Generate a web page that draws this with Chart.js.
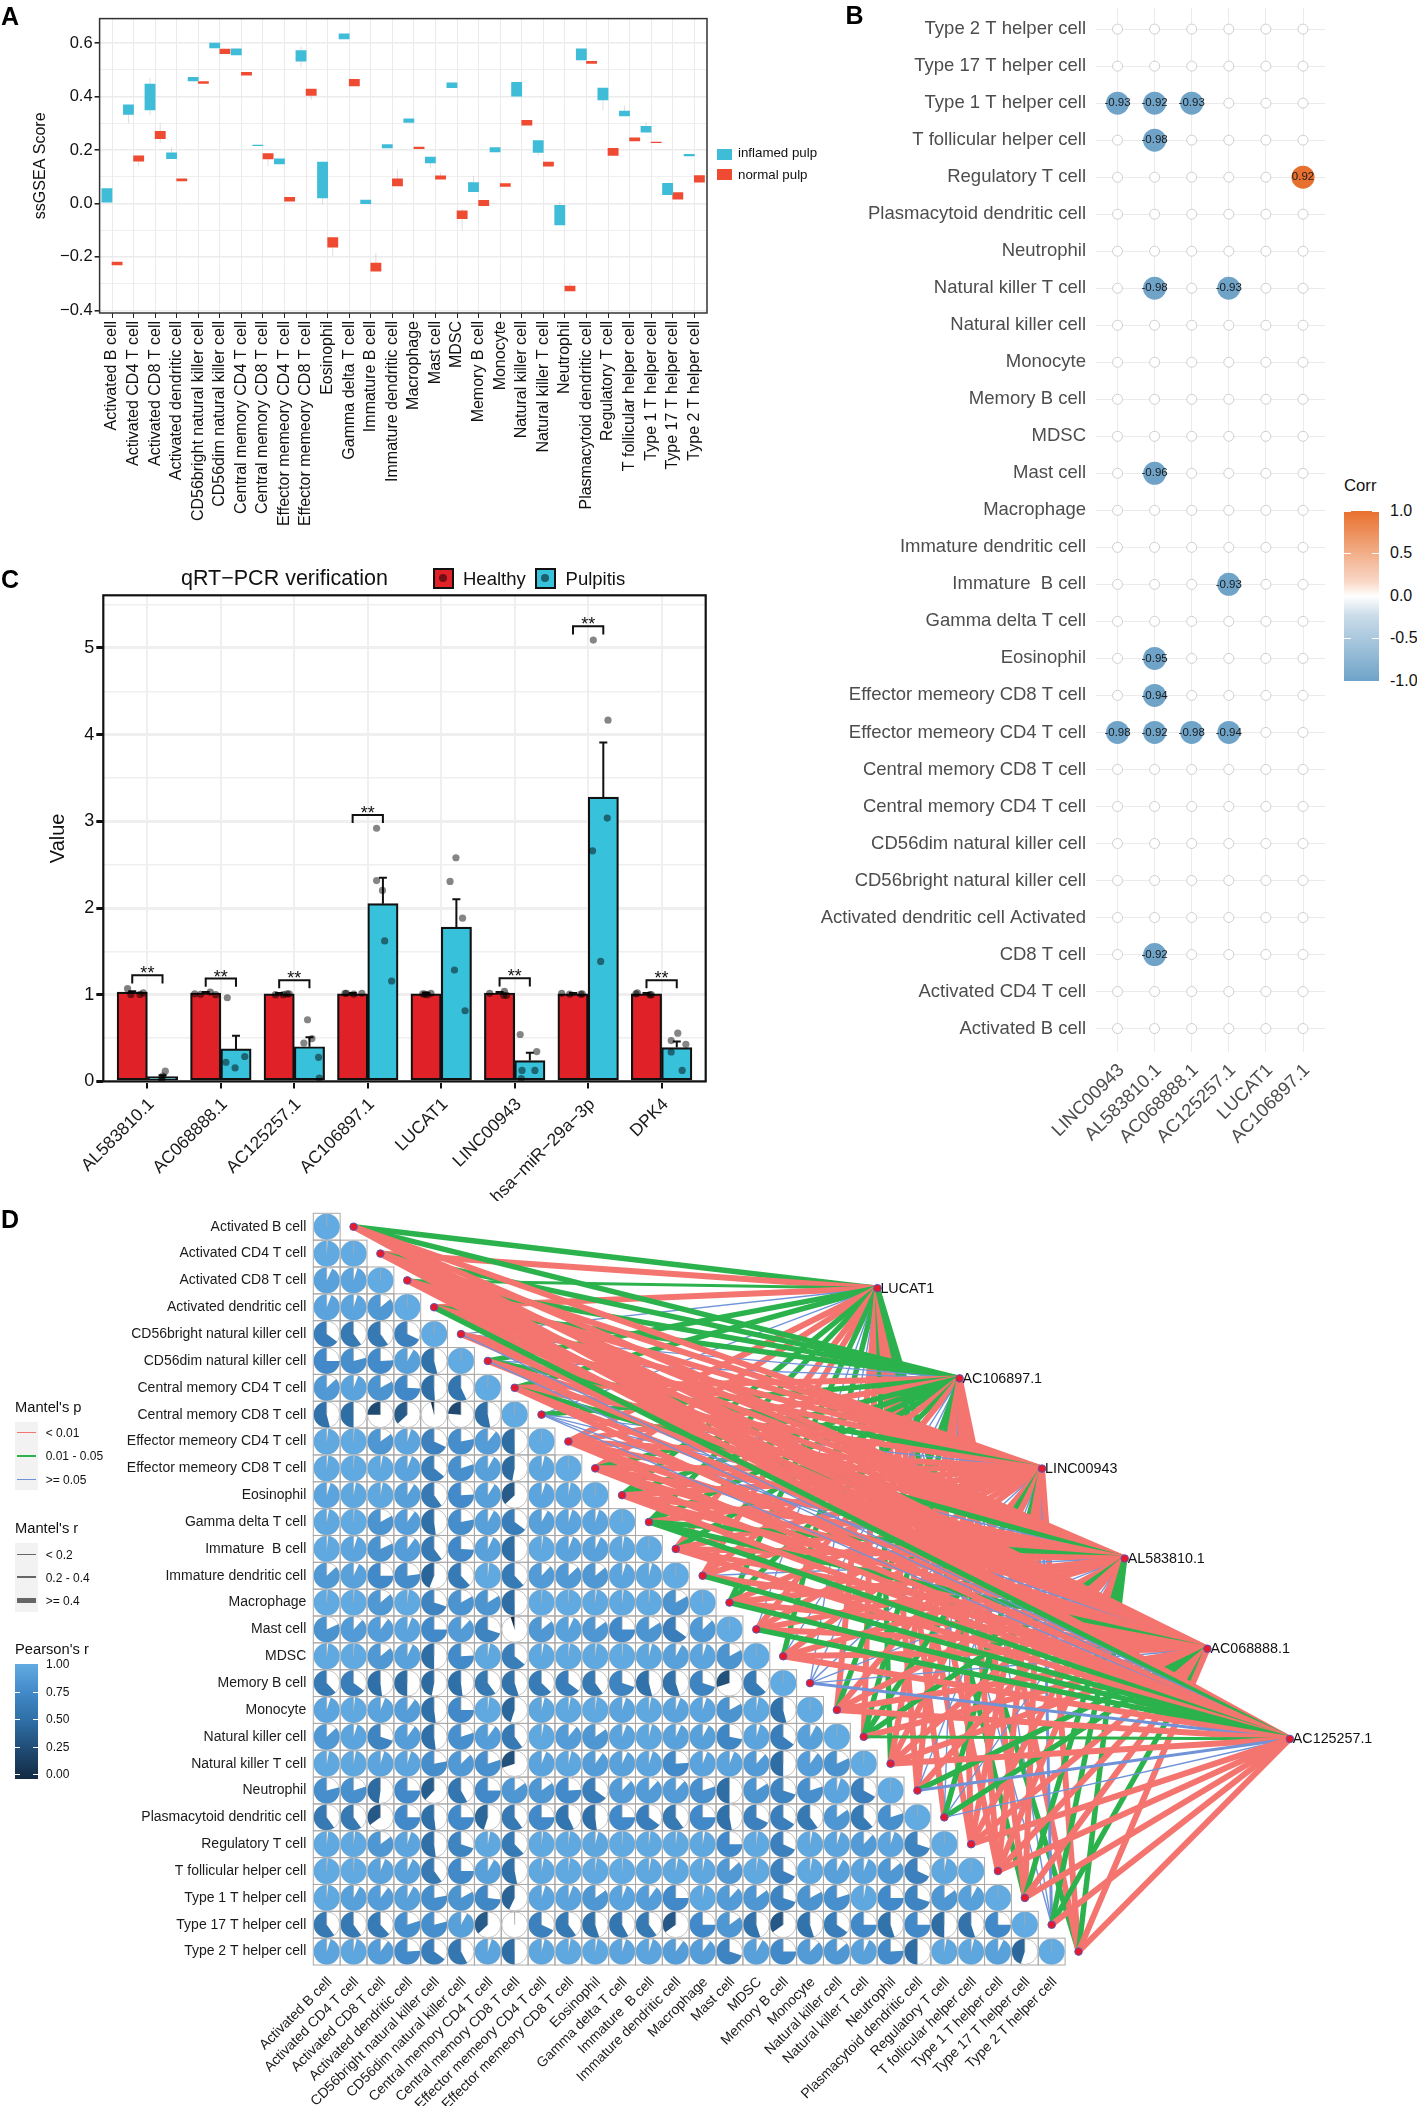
<!DOCTYPE html>
<html><head><meta charset="utf-8">
<script src="https://cdn.jsdelivr.net/npm/chart.js@4"></script>
<style>
html,body{margin:0;padding:0;background:#fff;width:1417px;height:2106px;overflow:hidden;font-family:"Liberation Sans",Arial,sans-serif}
canvas{position:absolute}
.t{position:absolute;white-space:nowrap;transform:translateY(-50%);line-height:1;color:#111}
.b{position:absolute}
</style></head><body>
<canvas id="ca" width="840" height="580" style="left:0;top:0"></canvas>
<canvas id="cb" width="540" height="1190" style="left:800px;top:-20px"></canvas>
<canvas id="cc" width="760" height="640" style="left:0;top:561px"></canvas>
<canvas id="cd" width="1417" height="906" style="left:0;top:1200px"></canvas>
<script>
/* ---------- panel A ---------- */
const cellsA=["Activated B cell","Activated CD4 T cell","Activated CD8 T cell","Activated dendritic cell","CD56bright natural killer cell","CD56dim natural killer cell","Central memory CD4 T cell","Central memory CD8 T cell","Effector memeory CD4 T cell","Effector memeory CD8 T cell","Eosinophil","Gamma delta T cell","Immature B cell","Immature dendritic cell","Macrophage","Mast cell","MDSC","Memory B cell","Monocyte","Natural killer cell","Natural killer T cell","Neutrophil","Plasmacytoid dendritic cell","Regulatory T cell","T follicular helper cell","Type 1 T helper cell","Type 17 T helper cell","Type 2 T helper cell"];
const inflamedBox=[[.005,.056],[.333,.369],[.35,.447],[.168,.19],[.459,.472],[.582,.6],[.556,.579],[.216,.219],[.148,.167],[.533,.572],[.021,.155],[.616,.635],[-.001,.013],[.208,.22],[.303,.317],[.152,.174],[.433,.452],[.044,.078],[.193,.209],[.402,.453],[.191,.235],[-.08,-.007],[.537,.579],[.388,.432],[.328,.346],[.267,.289],[.033,.075],[.178,.184]];
const normalBox=[[-.23,-.219],[.158,.178],[.243,.27],[.084,.092],[.449,.456],[.561,.578],[.48,.491],[.167,.187],[.009,.023],[.404,.428],[-.164,-.128],[.44,.465],[-.253,-.223],[.066,.092],[.205,.211],[.091,.103],[-.057,-.028],[-.008,.012],[.064,.074],[.293,.311],[.14,.155],[-.327,-.309],[.524,.532],[.18,.206],[.234,.246],[.228,.23],[.016,.041],[.08,.104]];
/* faint whiskers that can be seen: [category, group (0 inflamed, 1 normal), low, high] */
const whiskersA=[[1,0,.30,.369],[2,0,.33,.47],[3,0,.168,.21],[9,0,.51,.587],[10,0,-.003,.155],[15,0,.134,.174],[17,0,.044,.103],[20,0,.179,.235],[21,0,-.08,.007],[23,0,.35,.432],[24,0,.328,.367],[25,0,.267,.305],[1,1,.14,.178],[2,1,.227,.30],[7,1,.14,.187],[9,1,.388,.428],[10,1,-.196,-.128],[12,1,-.253,-.185],[13,1,.066,.127],[15,1,.091,.116],[16,1,-.1,-.02],[21,1,-.327,-.297]];
/* ---------- panel B ---------- */
const rowsB=["Type 2 T helper cell","Type 17 T helper cell","Type 1 T helper cell","T follicular helper cell","Regulatory T cell","Plasmacytoid dendritic cell","Neutrophil","Natural killer T cell","Natural killer cell","Monocyte","Memory B cell","MDSC","Mast cell","Macrophage","Immature dendritic cell","Immature  B cell","Gamma delta T cell","Eosinophil","Effector memeory CD8 T cell","Effector memeory CD4 T cell","Central memory CD8 T cell","Central memory CD4 T cell","CD56dim natural killer cell","CD56bright natural killer cell","Activated dendritic cell Activated","CD8 T cell","Activated CD4 T cell","Activated B cell"];
const genesB=["LINC00943","AL583810.1","AC068888.1","AC125257.1","LUCAT1","AC106897.1"];
/* row name -> [value per gene], only significant cells are listed */
const corrSig={"Type 1 T helper cell":[-.93,-.92,-.93,null,null,null],"T follicular helper cell":[null,-.98,null,null,null,null],"Regulatory T cell":[null,null,null,null,null,.92],"Natural killer T cell":[null,-.98,null,-.93,null,null],"Mast cell":[null,-.96,null,null,null,null],"Immature  B cell":[null,null,null,-.93,null,null],"Eosinophil":[null,-.95,null,null,null,null],"Effector memeory CD8 T cell":[null,-.94,null,null,null,null],"Effector memeory CD4 T cell":[-.98,-.92,-.98,-.94,null,null],"CD8 T cell":[null,-.92,null,null,null,null]};
const corrTicks=["1.0","0.5","0.0","-0.5","-1.0"];
/* ---------- panel C ---------- */
const genesC=["AL583810.1","AC068888.1","AC125257.1","AC106897.1","LUCAT1","LINC00943","hsa\u2212miR\u221229a\u22123p","DPK4"];
const healthyMean=[1.03,1.02,1.01,1.01,1.01,1.02,1.01,1.01];
const pulpitisMean=[.055,.375,.40,2.05,1.78,.24,3.28,.39];
const healthyErrTop=[1.04,1.03,1.02,1.02,1.02,1.03,1.02,1.02];
const pulpitisErrTop=[.07,.527,.51,2.35,2.10,.33,3.91,.46];
const healthyPointX=[-.27,-.225,-.10,-.056,.644,.725,.856,.93,1.744,1.85,1.9,1.93,2.69,2.71,2.81,2.92,3.75,3.78,3.81,3.86,4.66,4.85,4.86,4.89,5.64,5.75,5.9,5.92,6.65,6.67,6.84,6.86];
const healthyPointY=[1.069,1.003,1.003,1.02,1.01,1.005,1.03,1,1,1,1.01,1.01,1.016,1.016,1.006,1.016,1.01,1.006,1,1.016,1.016,.993,1.04,.993,1.016,1.006,1.006,1.01,1.01,1.02,1,1];
const pulpitisPointX=[.244,.194,.21,.194,1.088,1.325,1.194,1.069,2.18,2.13,2.24,2.33,2.34,3.12,3.12,3.2,3.23,3.325,4.2,4.12,4.29,4.18,4.325,5.075,5.3,5.1,5.275,5.09,6.07,6.27,6.26,6.06,6.17,7.22,7.13,7.33,7.13,7.28];
const pulpitisPointY=[.118,.033,.061,.005,.965,.287,.155,.221,.711,.443,.494,.278,.038,2.92,2.316,2.203,1.62,1.158,2.58,2.307,1.883,1.285,.815,.541,.344,.127,.127,.033,5.09,4.167,3.037,2.66,1.384,.556,.471,.428,.339,.127];
const bracketCat=[0,1,2,3,5,6,7];
const bracketTop=[1.224,1.186,1.168,3.074,1.19,5.25,1.168];
/* ---------- panel D ---------- */
const cellsD=["Activated B cell","Activated CD4 T cell","Activated CD8 T cell","Activated dendritic cell","CD56bright natural killer cell","CD56dim natural killer cell","Central memory CD4 T cell","Central memory CD8 T cell","Effector memeory CD4 T cell","Effector memeory CD8 T cell","Eosinophil","Gamma delta T cell","Immature  B cell","Immature dendritic cell","Macrophage","Mast cell","MDSC","Memory B cell","Monocyte","Natural killer cell","Natural killer T cell","Neutrophil","Plasmacytoid dendritic cell","Regulatory T cell","T follicular helper cell","Type 1 T helper cell","Type 17 T helper cell","Type 2 T helper cell"];
const pearson=[
[1],
[.99,1],
[.93,.95,1],
[.94,.95,.86,1],
[.65,.60,.60,.68,1],
[.75,.79,.76,.92,.54,1],
[.87,.94,.83,.74,.51,.57,1],
[.54,.5,.25,.37,.04,.24,.53,1],
[.98,.99,.85,.95,.68,.78,.89,.5,1],
[.98,.99,.97,.94,.64,.8,.92,.47,.96,1],
[.95,.97,.97,.91,.6,.76,.91,.37,.95,.97,1],
[.97,.99,.83,.9,.52,.78,.92,.65,.92,.95,.95,1],
[.98,.95,.82,.9,.6,.74,.93,.5,.98,.94,.93,.97,1],
[.87,.93,.75,.77,.44,.62,.98,.62,.88,.87,.86,.95,.96,1],
[.99,.99,.86,.98,.7,.83,.84,.5,.99,.99,.98,.98,.99,.83,1],
[.82,.88,.9,.94,.75,.88,.7,.05,.86,.93,.85,.75,.84,.65,.87,1],
[.98,.99,.86,.93,.5,.76,.97,.64,.97,.98,.98,.99,.96,.92,.95,.83,1],
[.62,.65,.52,.5,.47,.52,.6,.55,.63,.65,.6,.7,.54,.55,.7,.3,.63,1],
[.95,.98,.94,.9,.52,.75,.98,.45,.96,.97,.98,.95,.97,.94,.95,.83,.97,.54,1],
[.87,.95,.7,.9,.52,.8,.9,.6,.97,.89,.85,.94,.96,.93,.92,.72,.95,.65,.92,1],
[.97,.97,.95,.95,.78,.87,.8,.3,.94,.96,.9,.93,.95,.76,.94,.94,.88,.5,.9,.82,1],
[.79,.8,.48,.75,.38,.58,.75,.85,.85,.76,.65,.88,.88,.88,.8,.5,.84,.7,.8,.95,.67,1],
[.6,.6,.35,.75,.52,.75,.45,.6,.75,.57,.52,.75,.65,.6,.75,.53,.68,.66,.6,.85,.62,.8,1],
[.98,.98,.85,.95,.52,.7,.97,.62,.98,.98,.96,.99,.98,.98,.97,.75,.98,.68,.97,.95,.88,.95,.7,1],
[.99,.99,.94,.93,.6,.75,.92,.53,.97,.98,.98,.99,.97,.97,.97,.87,.98,.68,.97,.92,.94,.86,.68,.97,1],
[.98,.92,.9,.92,.78,.83,.73,.43,.95,.94,.85,.94,.9,.75,.97,.88,.85,.7,.83,.8,.97,.75,.7,.85,.92,1],
[.6,.6,.62,.8,.79,.92,.37,.005,.68,.6,.55,.58,.6,.35,.75,.85,.55,.35,.55,.65,.75,.55,.75,.5,.55,.75,1],
[.95,.96,.9,.76,.65,.58,.95,.5,.96,.97,.97,.95,.95,.9,.9,.7,.92,.75,.88,.86,.93,.76,.5,.97,.96,.93,.45,1]];
const genesD=["LUCAT1","AC106897.1","LINC00943","AL583810.1","AC068888.1","AC125257.1"];
/* R/G thick red/green, g thinner green, B medium blue, b thin blue; columns follow genesD */
const mantelLinks=["GGRRRR","RGRRRR","gGRRRR","RGRRRG","bbRRRb","GbGRRb","GRRGRR","bGbbbb","RRRRRR","RGRRRR","GGRRRR","GGRGGG","RGRRRR","RRRbRG","GGRRRG","bRRRRG","GbRRRR","bbbbbB","RGRRRR","RGGGRg","GRRRRR","RRbRGB","RbGbGb","RRRRRR","RRRRRR","GRRGRR","bbBGGR","GRRGRR"];
const legendP=["< 0.01","0.01 - 0.05",">= 0.05"];
const legendR=["< 0.2","0.2 - 0.4",">= 0.4"];
const pearsonTicks=["1.00","0.75","0.50","0.25","0.00"];

/* ---------- shared ---------- */
Chart.defaults.font.family='"Liberation Sans",Arial,sans-serif';
Chart.defaults.animation=false;
Chart.defaults.responsive=false;
Chart.defaults.events=[];
Chart.defaults.plugins.legend.display=false;
Chart.defaults.plugins.tooltip.enabled=false;
const GRID='#ebebeb';
const fixW=w=>function(s){s.width=w;s.paddingTop=0;s.paddingBottom=0};
const fixH=h=>function(s){s.height=h};
const frame=(color,lw)=>({id:'frame',afterDraw(c){const a=c.chartArea,x=c.ctx;x.save();x.strokeStyle=color;x.lineWidth=lw;x.strokeRect(a.left,a.top,a.right-a.left,a.bottom-a.top);x.restore();}});
const indexTicks=(n,off=0)=>function(s){s.ticks=Array.from({length:n},(_,i)=>({value:i+off}))};
function dom(cls,css,text){const e=document.createElement('div');e.className=cls;e.style.cssText=css;if(text!=null)e.textContent=text;document.body.appendChild(e);return e}
function txt(s,x,y,size,extra=''){return dom('t',`left:${x}px;top:${y}px;font-size:${size}px;${extra}`,s)}

/* ---------- A ---------- */
new Chart(document.getElementById('ca'),{
 type:'bar',
 data:{datasets:[
  {label:'inflamed pulp',data:inflamedBox.map((v,i)=>({x:i,y:v})),backgroundColor:'#3fbcd8',barThickness:10.2,borderWidth:0},
  {label:'normal pulp',data:normalBox.map((v,i)=>({x:i,y:v})),backgroundColor:'#ef4a32',barThickness:10.2,borderWidth:0}]},
 options:{layout:{padding:{top:18.6,right:133,left:0,bottom:0}},
  scales:{
   x:{type:'linear',offset:false,min:-.575,max:27.59,afterBuildTicks:indexTicks(cellsA.length),afterFit:fixH(267),
      grid:{offset:false,color:GRID,lineWidth:1,tickColor:'#222',tickLength:5},border:{display:false},
      ticks:{autoSkip:false,minRotation:90,maxRotation:90,padding:3,color:'#111',font:{size:16},callback:v=>cellsA[v]}},
   y:{min:-.41,max:.692,afterFit:fixW(99.6),border:{display:false},
      title:{display:true,text:'ssGSEA Score',color:'#111',font:{size:16},padding:{top:31,bottom:0}},
      grid:{color:GRID,lineWidth:c=>Math.abs(Math.round(c.tick.value*10))%2==0?1.6:.8,tickColor:c=>Math.abs(Math.round(c.tick.value*10))%2==0?'#222':'rgba(0,0,0,0)',tickLength:5},
      ticks:{stepSize:.1,includeBounds:false,autoSkip:false,padding:2,color:'#111',font:{size:16.5},callback:v=>{const k=Math.round(v*10);return k%2==0?(k<0?'\u2212':'')+Math.abs(v).toFixed(1):''}}}}},
 plugins:[frame('#333',1.5),{id:'whisk',beforeDatasetsDraw(c){const x=c.ctx,ys=c.scales.y;x.save();x.strokeStyle='rgba(110,110,110,.22)';x.lineWidth=1;
   whiskersA.forEach(w=>{const e=c.getDatasetMeta(w[1]).data[w[0]];x.beginPath();x.moveTo(e.x,ys.getPixelForValue(w[2]));x.lineTo(e.x,ys.getPixelForValue(w[3]));x.stroke();});x.restore();}}]
});
dom('b','left:717px;top:149px;width:15px;height:11px;background:#3fbcd8');
txt('inflamed pulp',738,153,13.3);
dom('b','left:717px;top:168.6px;width:15px;height:11px;background:#ef4a32');
txt('normal pulp',738,175,13.3);

/* ---------- B ---------- */
const sigPts=[],nsPts=[];
rowsB.forEach((r,ri)=>genesB.forEach((g,gi)=>{const v=corrSig[r]?corrSig[r][gi]:null;if(v==null)nsPts.push({x:gi,y:ri,r:5});else sigPts.push({x:gi,y:ri,r:11.5,v});}));
const corrColor=v=>v>0?'#e8702e':'#6fa3c8';
new Chart(document.getElementById('cb'),{
 type:'bubble',
 data:{datasets:[
  {label:'n.s.',data:nsPts,backgroundColor:'#fff',borderColor:'#cfcfcf',borderWidth:1,order:2},
  {label:'Corr',data:sigPts,backgroundColor:c=>corrColor(c.raw.v),borderWidth:0,order:1}]},
 options:{clip:false,layout:{padding:{top:28,right:15,left:0,bottom:0}},
  scales:{
   x:{type:'linear',min:-.58,max:5.593,afterBuildTicks:indexTicks(genesB.length),afterFit:fixH(1170-1051.5),
      grid:{color:GRID,drawTicks:false},border:{display:false},
      ticks:{autoSkip:false,minRotation:45,maxRotation:45,padding:8,labelOffset:4,color:'#4d4d4d',font:{size:18.5},callback:v=>genesB[v]}},
   y:{type:'linear',reverse:true,min:-.57,max:27.62,afterBuildTicks:indexTicks(rowsB.length),afterFit:fixW(296),
      grid:{color:GRID,drawTicks:false},border:{display:false},
      ticks:{autoSkip:false,padding:10,color:'#4d4d4d',font:{size:18.5},callback:v=>rowsB[v]}}}},
 plugins:[{id:'corrLabels',afterDatasetsDraw(c){const x=c.ctx,m=c.getDatasetMeta(1);x.save();x.font='11.5px "Liberation Sans",Arial,sans-serif';x.fillStyle='#1a1a1a';x.textAlign='center';x.textBaseline='middle';m.data.forEach((e,i)=>x.fillText(sigPts[i].v.toFixed(2),e.x,e.y));x.restore();}}]
});
txt('Corr',1344,486,16.7,'color:#111');
dom('b','left:1344px;top:511px;width:34.5px;height:170px;background:linear-gradient(#e8702e,#f9d9c8 42%,#fff 50%,#c9dbe8 62%,#6fa3c8)');
corrTicks.forEach((s,i)=>{const y=511+i*42.4;txt(s,1390,y,16,'color:#111');
 dom('b',`left:1344px;top:${y}px;width:7px;height:1px;background:#fff`);dom('b',`left:1371.5px;top:${y}px;width:7px;height:1px;background:#fff`);});

/* ---------- C ---------- */
const dots=(xs,ys)=>xs.map((x,i)=>({x,y:ys[i]}));
new Chart(document.getElementById('cc'),{
 type:'bar',
 data:{datasets:[
  {label:'Healthy',order:2,data:healthyMean.map((y,i)=>({x:i,y})),backgroundColor:'#e02128',borderColor:'#111',borderWidth:2.2,borderSkipped:false,barThickness:30.3},
  {label:'Pulpitis',order:2,data:pulpitisMean.map((y,i)=>({x:i,y})),backgroundColor:'#38c1db',borderColor:'#111',borderWidth:2.2,borderSkipped:false,barThickness:30.3},
  {type:'scatter',label:'Healthy samples',order:1,data:dots(healthyPointX,healthyPointY),backgroundColor:'rgba(0,0,0,.5)',borderWidth:0,pointRadius:3.6},
  {type:'scatter',label:'Pulpitis samples',order:1,data:dots(pulpitisPointX,pulpitisPointY),backgroundColor:'rgba(0,0,0,.48)',borderWidth:0,pointRadius:3.6}]},
 options:{layout:{padding:{top:34.3,right:54.3,left:0,bottom:0}},
  scales:{
   x:{type:'linear',offset:false,min:-.6,max:7.6,afterBuildTicks:indexTicks(genesC.length),afterFit:fixH(640-520.4),
      grid:{offset:false,color:'#efefef',lineWidth:2,tickColor:'#111',tickLength:7},border:{display:false},
      ticks:{autoSkip:false,minRotation:45,maxRotation:45,padding:6,labelOffset:4,color:'#1a1a1a',font:{size:17.5},callback:v=>genesC[v]}},
   y:{min:0,max:5.607,afterFit:fixW(103.3),border:{display:false},
      title:{display:true,text:'Value',color:'#111',font:{size:20},padding:{top:46,bottom:0}},
      grid:{color:'#efefef',lineWidth:c=>Number.isInteger(c.tick.value)?3:1.4,tickColor:c=>Number.isInteger(c.tick.value)?'#111':'rgba(0,0,0,0)',tickLength:7},
      ticks:{stepSize:.5,includeBounds:false,autoSkip:false,padding:2,color:'#111',font:{size:18},callback:v=>Number.isInteger(v)?String(v):''}}}},
 plugins:[frame('#111',2.2),{id:'errs',afterDatasetDraw(c,args){
   if(args.index>1)return;
   const tops=args.index==0?healthyErrTop:pulpitisErrTop,means=args.index==0?healthyMean:pulpitisMean;
   const x=c.ctx,ys=c.scales.y,m=c.getDatasetMeta(args.index);
   x.save();x.strokeStyle='#111';x.lineWidth=2;
   m.data.forEach((b,i)=>{const yt=ys.getPixelForValue(tops[i]),y0=ys.getPixelForValue(means[i]);x.beginPath();x.moveTo(b.x,y0);x.lineTo(b.x,yt);x.moveTo(b.x-4,yt);x.lineTo(b.x+4,yt);x.stroke();});
   x.restore();},
  afterDatasetsDraw(c){
   const x=c.ctx,xs=c.scales.x,ys=c.scales.y;x.save();x.strokeStyle='#111';x.lineWidth=2;x.fillStyle='#111';x.textAlign='center';x.textBaseline='alphabetic';x.font='18px "Liberation Sans",Arial,sans-serif';
   bracketCat.forEach((k,i)=>{const l=xs.getPixelForValue(k-.206),r=xs.getPixelForValue(k+.206),t=ys.getPixelForValue(bracketTop[i]),b=ys.getPixelForValue(bracketTop[i]-.094);
    x.beginPath();x.moveTo(l,b);x.lineTo(l,t);x.lineTo(r,t);x.lineTo(r,b);x.stroke();x.fillText('**',(l+r)/2,t+4);});
   x.restore();}}]
});
txt('qRT\u2212PCR verification',181,579,21.5);
dom('b','left:433px;top:568px;width:17px;height:17px;border:2px solid #111;background:#e02128');
dom('b','left:439px;top:574px;width:8px;height:8px;border-radius:50%;background:rgba(0,0,0,.5)');
txt('Healthy',463,579,18.5);
dom('b','left:535px;top:568px;width:17px;height:17px;border:2px solid #111;background:#38c1db');
dom('b','left:541px;top:574px;width:8px;height:8px;border-radius:50%;background:rgba(0,0,0,.5)');
txt('Pulpitis',565.6,579,18.5);

/* ---------- D ---------- */
const pearsonStops=['#132b43','#1f4a72','#2e6ea5','#4189c8','#62abe2'];
const hex=(s,i)=>parseInt(s.substr(1+2*i,2),16);
const pearsonColor=f=>{const p=Math.min(f*4,3.9999),k=Math.floor(p),t=p-k,a=pearsonStops[k],b=pearsonStops[k+1];
 return 'rgb('+[0,1,2].map(i=>Math.round(hex(a,i)+(hex(b,i)-hex(a,i))*t)).join(',')+')'};
const pieCells=[];pearson.forEach((row,r)=>row.forEach((f,c)=>pieCells.push({x:c+.5,y:r+.5,f})));
const sourcePts=cellsD.map((_,r)=>({x:r+1.5,y:r+.5}));
const targetPts=[{x:21.01,y:2.79},{x:24.07,y:6.15},{x:27.14,y:9.51},{x:30.22,y:12.86},{x:33.3,y:16.22},{x:36.37,y:19.58}];
const linkColor={R:'#f4756f',G:'#2bb24c',g:'#2bb24c',B:'#7093d8',b:'#7093d8'};
const linkWidth={R:6,G:5.4,g:3,B:3,b:1.4};
const linkSets=[];
genesD.forEach((g,gi)=>mantelLinks.forEach((codes,r)=>{const k=codes[gi];
 linkSets.push({type:'line',label:cellsD[r]+' - '+g,data:[sourcePts[r],targetPts[gi]],borderColor:linkColor[k],borderWidth:linkWidth[k],pointRadius:0,tension:0,fill:false,borderCapStyle:'butt',order:1000-linkSets.length,clip:false});}));
new Chart(document.getElementById('cd'),{
 type:'scatter',
 data:{datasets:[
  {label:"Pearson's r",type:'scatter',data:pieCells,pointRadius:0,order:2000},
  ...linkSets,
  {label:'nodes',type:'scatter',data:[...sourcePts,...targetPts],backgroundColor:'#e8192c',borderColor:'#5a58b5',borderWidth:1,pointRadius:3.8,order:-1,clip:false}]},
 options:{layout:{padding:{top:13.3,right:17,left:0,bottom:0}},
  scales:{
   x:{type:'linear',min:0,max:40.473,afterBuildTicks:indexTicks(cellsD.length,.5),afterFit:fixH(141),
      grid:{display:false,drawTicks:false},border:{display:false},
      ticks:{autoSkip:false,minRotation:45,maxRotation:45,padding:9,labelOffset:3,color:'#1a1a1a',font:{size:14},callback:v=>cellsD[Math.floor(v)]}},
   y:{type:'linear',reverse:true,min:0,max:28,afterBuildTicks:indexTicks(cellsD.length,.5),afterFit:fixW(313.3),
      grid:{display:false,drawTicks:false},border:{display:false},
      ticks:{autoSkip:false,padding:7,color:'#1a1a1a',font:{size:14},callback:v=>cellsD[Math.floor(v)]}}}},
 plugins:[{id:'pies',afterDraw(c){
   const x=c.ctx,m=c.getDatasetMeta(0),xs=c.scales.x,ys=c.scales.y;
   const w=Math.abs(xs.getPixelForValue(1)-xs.getPixelForValue(0))/2,R=w-.5;
   x.save();
   x.strokeStyle='#a9a9a9';x.lineWidth=1;
   m.data.forEach(e=>x.strokeRect(e.x-w,e.y-w,2*w,2*w));
   m.data.forEach((e,i)=>{const f=pieCells[i].f;
    x.beginPath();x.arc(e.x,e.y,R,0,Math.PI*2);x.fillStyle='#fff';x.fill();x.strokeStyle='#bdbdbd';x.lineWidth=.9;x.stroke();
    x.beginPath();x.moveTo(e.x,e.y);x.arc(e.x,e.y,R,-Math.PI/2,-Math.PI/2-f*2*Math.PI,true);x.closePath();x.fillStyle=pearsonColor(f);x.fill();
    x.beginPath();x.moveTo(e.x,e.y);x.lineTo(e.x,e.y-R);x.strokeStyle='rgba(170,170,170,.9)';x.lineWidth=.8;x.stroke();});
   const n=c.getDatasetMeta(c.data.datasets.length-1);
   x.fillStyle='#111';x.font='14.3px "Liberation Sans",Arial,sans-serif';x.textAlign='left';x.textBaseline='middle';
   genesD.forEach((g,i)=>{const e=n.data[sourcePts.length+i];x.fillText(g,e.x+3,e.y+.5);});
   x.restore();}}]
});
/* D legends */
txt("Mantel's p",15,1407,14.7);
dom('b','left:15px;top:1421.7px;width:23px;height:68.5px;background:#f2f2f2');
legendP.forEach((s,i)=>{const y=1432.7+i*23.2;dom('b',`left:17px;top:${y-.5}px;width:19px;height:1.2px;background:${['#f4756f','#2bb24c','#7093d8'][i]}`);txt(s,45.7,y+.5,12);});
txt("Mantel's r",15,1528.3,14.7);
dom('b','left:15px;top:1542.7px;width:23px;height:69px;background:#f2f2f2');
legendR.forEach((s,i)=>{const y=1554+i*23.2,h=[1,2.4,5][i];dom('b',`left:17px;top:${y-h/2}px;width:19px;height:${h}px;background:#666`);txt(s,45.7,y+.5,12);});
txt("Pearson's r",15,1649,14.7);
dom('b','left:15px;top:1664px;width:22.5px;height:115px;background:linear-gradient(#62abe2,#4189c8 25%,#2e6ea5 50%,#1f4a72 75%,#132b43)');
pearsonTicks.forEach((s,i)=>{const y=1664+i*27.5;txt(s,46,y,12);
 if(i>0){dom('b',`left:15px;top:${y}px;width:4.5px;height:1px;background:#fff`);dom('b',`left:33px;top:${y}px;width:4.5px;height:1px;background:#fff`);}});
/* panel letters */
[['A',1,15.5],['B',845.5,15],['C',1,579],['D',1,1219]].forEach(p=>txt(p[0],p[1],p[2],25,'font-weight:bold;color:#000'));
</script>
</body></html>
